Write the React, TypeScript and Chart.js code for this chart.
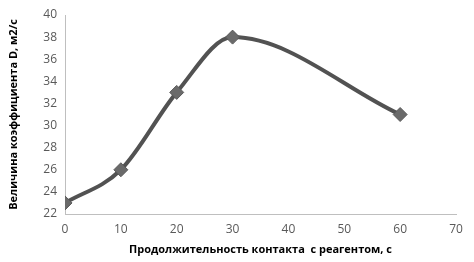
import React, { useEffect, useRef } from "react";
import { Chart, registerables } from "chart.js";
Chart.register(...registerables);

const xValues = [0, 10, 20, 30, 60];
const yValues = [23, 26, 33, 38, 31];
const xTitle = "Продолжительность контакта  с реагентом, с";
const yTitle = "Величина коэффициента D, м2/с";

export default function App() {
  const ref = useRef<HTMLCanvasElement>(null);
  useEffect(() => {
    document.body.style.margin = "0";
    const ctx = ref.current!;
    const chart = new Chart(ctx, {
      type: "line",
      data: {
        datasets: [
          {
            data: xValues.map((x, i) => ({ x, y: yValues[i] })),
            borderColor: "#525252",
            borderWidth: 4,
            cubicInterpolationMode: "monotone",
            pointStyle: "rectRot",
            pointRadius: 7,
            pointBackgroundColor: "#6a6a6a",
            pointBorderColor: "#5a5a5a",
            pointBorderWidth: 1,
          },
        ],
      },
      options: {
        animation: false,
        responsive: false,
        maintainAspectRatio: false,
        plugins: { legend: { display: false }, tooltip: { enabled: false } },
        layout: { padding: { top: 15, right: 18, left: 3, bottom: 2 } },
        scales: {
          x: {
            type: "linear",
            min: 0,
            max: 70,
            ticks: { stepSize: 10, color: "#595959", font: { family: "Open Sans", size: 12 }, padding: 4 },
            grid: { display: false, drawTicks: true, tickLength: 4, color: "#bfbfbf" },
            border: { color: "#bfbfbf" },
            title: {
              display: true,
              text: xTitle,
              color: "#000",
              font: { family: "Open Sans", size: 11, weight: "bold" },
              padding: { top: 6 },
            },
            afterFit: (s: any) => {
              s.height = 46;
            },
          },
          y: {
            min: 22,
            max: 40,
            ticks: { stepSize: 2, color: "#595959", font: { family: "Open Sans", size: 12 }, padding: 4 },
            grid: { display: false, drawTicks: true, tickLength: 4, color: "#bfbfbf" },
            border: { color: "#bfbfbf" },
            title: {
              display: true,
              text: yTitle,
              color: "#000",
              font: { family: "Open Sans", size: 11, weight: "bold" },
              padding: { bottom: 10 },
            },
            afterFit: (s: any) => {
              s.width = 62;
            },
          },
        },
      },
    });
    return () => chart.destroy();
  }, []);
  return <canvas ref={ref} width={474} height={262} style={{ display: "block" }} />;
}
